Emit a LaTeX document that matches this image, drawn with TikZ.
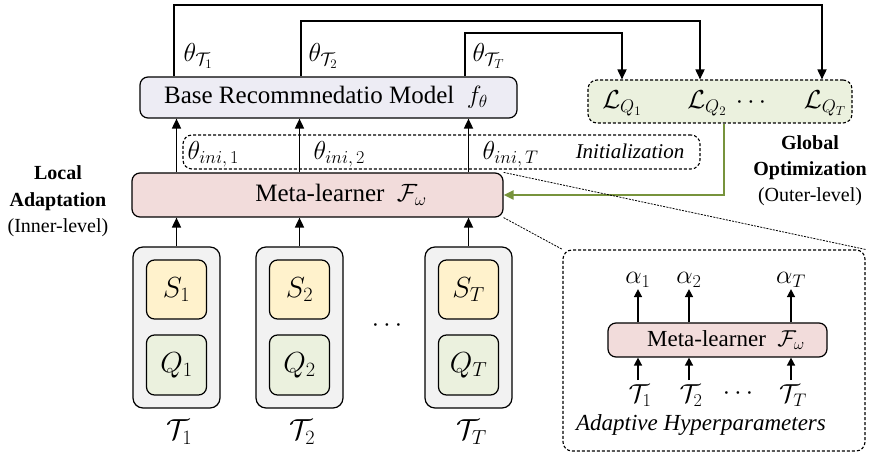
\RequirePackage{fix-cm}
\documentclass[tikz,border=0pt]{standalone}
\usepackage{fontspec}
\setmainfont{Liberation Serif}
\usetikzlibrary{arrows.meta}
\definecolor{baseC}{HTML}{EDECF4}
\definecolor{lossC}{HTML}{EBF1DE}
\definecolor{metaC}{HTML}{F2DCDB}
\definecolor{taskC}{HTML}{F2F2F2}
\definecolor{sC}{HTML}{FFF2CC}
\definecolor{qC}{HTML}{EBF1DE}
\definecolor{grn}{HTML}{77933C}
\begin{document}
\begin{tikzpicture}[x=1pt,y=-1pt,
  box/.style={draw,line width=1.2pt,rounded corners=8pt,inner sep=0pt},
  dbox/.style={draw,line width=1.1pt,dash pattern=on 3pt off 2pt,rounded corners=9pt,inner sep=0pt},
  arr/.style={line width=1.7pt,-{Triangle[length=10pt,width=9pt]}},
  sarr/.style={line width=1.5pt,-{Triangle[length=8pt,width=8pt]}},
  conn/.style={line width=0.8pt,dash pattern=on 2pt off 1.2pt},
  big/.style={font=\fontsize{25}{30}\selectfont},
  mth/.style={font=\fontsize{26}{30}\selectfont},
  sml/.style={font=\fontsize{21}{25}\selectfont},
  smth/.style={font=\fontsize{26}{30}\selectfont},
  lbl/.style={font=\fontsize{20}{24}\selectfont,anchor=base},
  blbl/.style={font=\fontsize{20}{24}\selectfont\bfseries,anchor=base},
]
\useasboundingbox (0,0) rectangle (871,454);

% base model
\node[box,fill=baseC,minimum width=377pt,minimum height=41pt] (base) at (328.5,97.5) {};
\node[big] (basetxt) at (326,97.5) {Base Recommnedatio Model~~$f_\theta$};

% loss box
\node[dbox,fill=lossC,minimum width=264pt,minimum height=43pt] (loss) at (720,101.5) {};
\node[mth,anchor=base] (L1) at (622,109) {$\mathcal{L}_{Q_1}$};
\node[mth,anchor=base] (L2) at (707,109) {$\mathcal{L}_{Q_2}$};
\node[mth,anchor=base] (Ld) at (751,109) {$\cdots$};
\node[mth,anchor=base] (L3) at (825,109) {$\mathcal{L}_{Q_T}$};
\coordinate (x1) at (174,0);
\coordinate (x2) at (301,0);
\coordinate (x3) at (465,0);
\coordinate (y1) at (0,5);
\coordinate (y2) at (0,21);
\coordinate (y3) at (0,33);
\coordinate (l1) at (622,0);
\coordinate (l2) at (700,0);
\coordinate (l3) at (822,0);
\draw[arr] (base.north -| x1) -- (x1 |- y1) -- (l3 |- y1) -- (loss.north -| l3);
\draw[arr] (base.north -| x2) -- (x2 |- y2) -- (l2 |- y2) -- (loss.north -| l2);
\draw[arr] (base.north -| x3) -- (x3 |- y3) -- (l1 |- y3) -- (loss.north -| l1);
\node[mth,anchor=base west] (th1) at (180,62) {$\theta_{\mathcal{T}_1}$};
\node[mth,anchor=base west] (th2) at (305,62) {$\theta_{\mathcal{T}_2}$};
\node[mth,anchor=base west] (th3) at (469,62) {$\theta_{\mathcal{T}_T}$};

% initialization
\node[dbox,minimum width=517pt,minimum height=34pt] (init) at (441.5,152) {};
\node[mth,anchor=base west] (ti1) at (184,160) {$\theta_{ini,\,1}$};
\node[mth,anchor=base west] (ti2) at (310,160) {$\theta_{ini,\,2}$};
\node[mth,anchor=base west] (ti3) at (479,160) {$\theta_{ini,\,T}$};
\node[sml,anchor=base] (inittxt) at (630,159) {\itshape Initialization};

% meta-learner
\node[box,fill=metaC,minimum width=371pt,minimum height=44pt] (meta) at (317.5,195) {};
\node[big] (metatxt) at (341,195) {Meta-learner~~$\mathcal{F}_\omega$};

% tasks
\foreach \i/\x/\s in {1/176.5/1, 2/299.5/2, 3/468.5/T}{
  \node[box,rounded corners=10pt,fill=taskC,minimum width=87pt,minimum height=161pt] (T\i) at (\x,327.5) {};
  \node[box,fill=sC,minimum width=60pt,minimum height=59pt,font=\fontsize{29}{32}\selectfont] (S\i) at (\x,289.5) {$S_{\s}$};
  \node[box,fill=qC,minimum width=60pt,minimum height=60pt,font=\fontsize{29}{32}\selectfont] (Q\i) at (\x,365) {$Q_{\s}$};
  \node[font=\fontsize{29}{32}\selectfont,anchor=base] (TL\i) at (\x+3,440) {$\mathcal{T}_{\s}$};
  \draw[arr] (T\i.north) -- (meta.south -| T\i);
  \draw[arr] (meta.north -| T\i) -- (base.south -| T\i);
}
\node[mth] (tdots) at (387,326) {$\cdots$};

% green feedback
\coordinate (g) at (724,0);
\draw[grn,line width=2pt,-{Triangle[length=10pt,width=9pt]}] (loss.south -| g) |- (meta.east);

% labels
\node[blbl] (loc1) at (58,180) {Local};
\node[blbl] (loc2) at (58,207) {Adaptation};
\node[lbl] (loc3) at (58,233) {(Inner-level)};
\node[blbl] (glo1) at (810,150) {Global};
\node[blbl] (glo2) at (810,176) {Optimization};
\node[lbl] (glo3) at (810,202) {(Outer-level)};

% inset
\node[dbox,minimum width=302pt,minimum height=201pt] (inset) at (714,350.5) {};
\draw[conn] (meta.south east) -- (inset.north west);
\draw[conn] (meta.north east) -- (inset.north east);
\node[box,fill=metaC,minimum width=219pt,minimum height=34pt] (im) at (717.5,340) {};
\node[font=\fontsize{23}{27}\selectfont] (imtxt) at (726,340) {Meta-learner~~$\mathcal{F}_\omega$};
\foreach \i/\x/\s in {1/637/1, 2/688/2, 3/790/T}{
  \node[smth,anchor=base,inner sep=1pt] (al\i) at (\x+1,284) {$\alpha_{\s}$};
  \draw[sarr] (im.north -| al\i) -- (al\i.south -| al\i);
  \node[smth,anchor=base,inner sep=5pt] (it\i) at (\x+3,403) {$\mathcal{T}_{\s}$};
  \draw[sarr] (it\i.north -| al\i) -- (im.south -| al\i);
}
\node[smth] (idots) at (738,394) {$\cdots$};
\node[font=\fontsize{23}{27}\selectfont\itshape] (adtxt) at (701,425) {Adaptive Hyperparameters};
\end{tikzpicture}
\end{document}
